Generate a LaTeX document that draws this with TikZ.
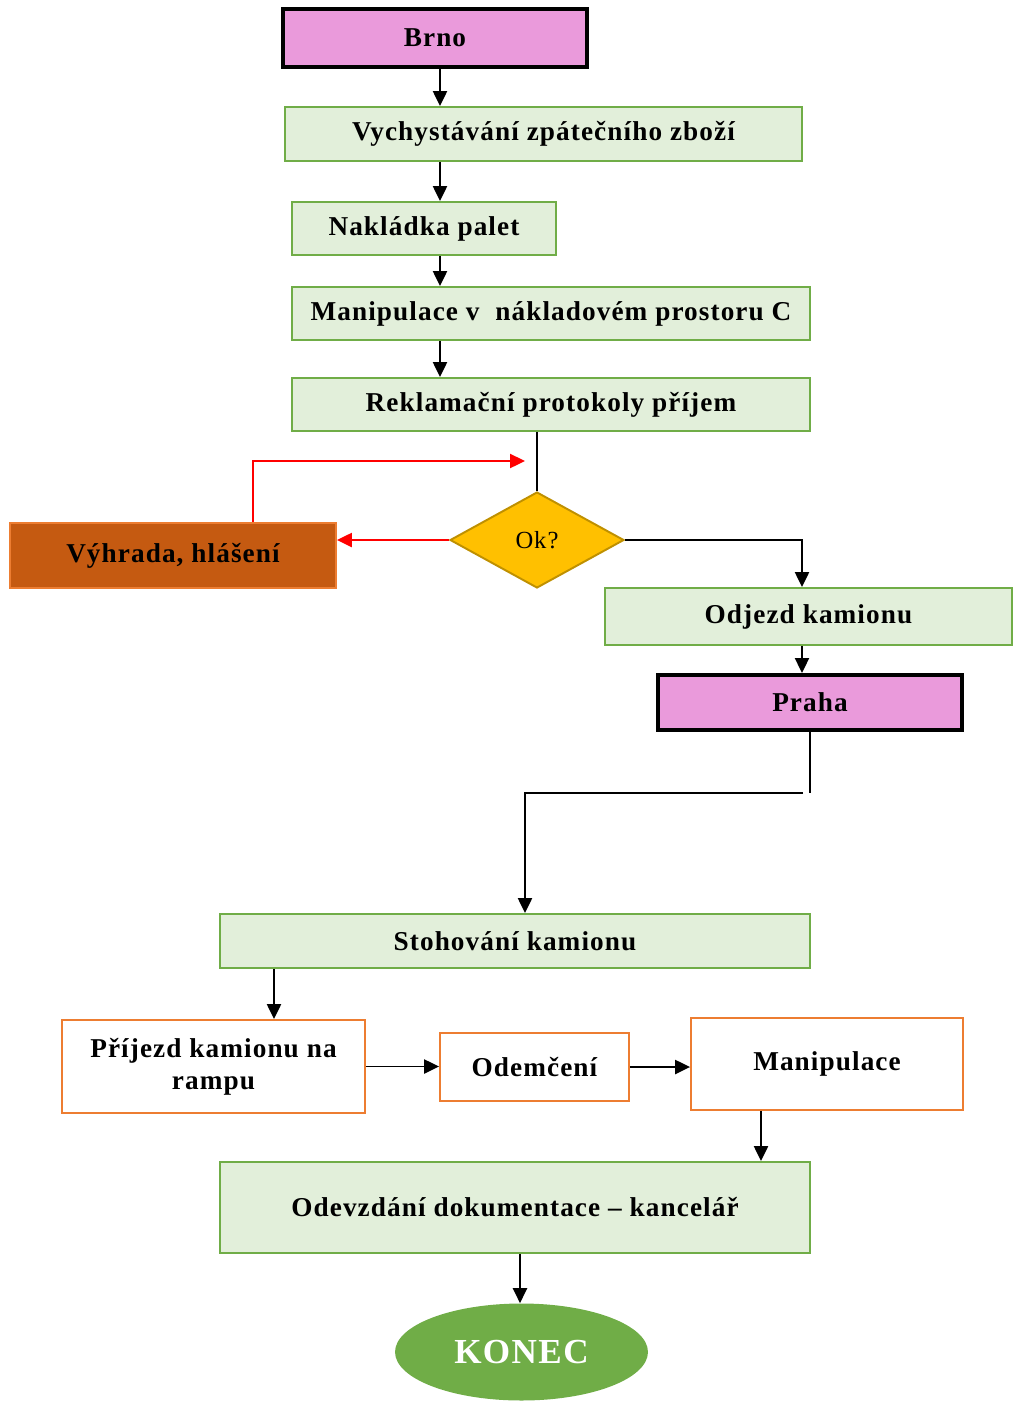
\documentclass[tikz,border=0pt]{standalone}
\usepackage{fontspec}
\setmainfont{Liberation Serif}[LetterSpace=4]
\usetikzlibrary{shapes.geometric,arrows.meta}
\definecolor{cityfill}{HTML}{EA9ADB}
\definecolor{stepfill}{HTML}{E2EFDA}
\definecolor{stepline}{HTML}{70AD47}
\definecolor{askfill}{HTML}{FFC000}
\definecolor{askline}{HTML}{BF9000}
\definecolor{warnfill}{HTML}{C55A11}
\definecolor{orangeline}{HTML}{ED7D31}
\tikzset{
  base/.style={font=\fontsize{15.5}{18}\selectfont\bfseries, inner sep=2pt, align=center},
  city/.style={base, rectangle, fill=cityfill, draw=black, line width=2.3pt},
  stepbox/.style={base, rectangle, fill=stepfill, draw=stepline, line width=1.1pt},
  whitebox/.style={base, rectangle, fill=white, draw=orangeline, line width=1.1pt},
  warnbox/.style={base, rectangle, fill=warnfill, draw=orangeline, line width=1.1pt},
  askbox/.style={diamond, fill=askfill, draw=askline, line width=1.1pt, inner sep=0pt,
    font=\fontsize{14}{16}\selectfont},
  endbox/.style={ellipse, fill=stepline, draw=none, text=white, inner sep=0pt,
    font=\fontsize{20}{24}\selectfont\bfseries},
  conn/.style={line width=1.1pt, black},
  arr/.style={conn, -{Triangle[length=8.5pt,width=8pt]}},
  redarr/.style={line width=1.1pt, red, -{Triangle[length=8.5pt,width=8pt]}},
}
\begin{document}
\begin{tikzpicture}[x=0.02cm, y=-0.02cm]
\useasboundingbox (0,0) rectangle (1014,1401);

% process steps
\node[city, minimum width=6.08cm, minimum height=1.16cm] (brno) at (435,38) {Brno};
\node[stepbox, minimum width=10.34cm, minimum height=1.08cm] (vych) at (543.5,134) {Vychystávání zpátečního zboží};
\node[stepbox, minimum width=5.28cm, minimum height=1.06cm] (nakl) at (424,228.5) {Nakládka palet};
\node[stepbox, minimum width=10.36cm, minimum height=1.06cm] (manc) at (551,313.5) {Manipulace v~ nákladovém prostoru C};
\node[stepbox, minimum width=10.36cm, minimum height=1.06cm] (rekl) at (551,404.5) {Reklamační protokoly příjem};
\node[askbox, minimum width=3.48cm, minimum height=1.92cm] (ok) at (537,540) {Ok?};
\node[warnbox, minimum width=6.52cm, minimum height=1.3cm] (vyh) at (173,555.5) {Výhrada, hlášení};
\node[stepbox, minimum width=8.14cm, minimum height=1.14cm] (odj) at (808.5,616.5) {Odjezd kamionu};
\node[city, minimum width=6.08cm, minimum height=1.1cm] (praha) at (810,702.5) {Praha};
\node[stepbox, minimum width=11.8cm, minimum height=1.08cm] (stoh) at (515,941) {Stohování kamionu};
\node[whitebox, minimum width=6.06cm, minimum height=1.86cm] (prij) at (213.5,1066.5) {Příjezd kamionu na\\rampu};
\node[whitebox, minimum width=3.78cm, minimum height=1.36cm] (odem) at (534.5,1067) {Odemčení};
\node[whitebox, minimum width=5.44cm, minimum height=1.84cm] (mani) at (827,1064) {Manipulace};
\node[stepbox, minimum width=11.8cm, minimum height=1.82cm] (odev) at (515,1207.5) {Odevzdání dokumentace – kancelář};
\node[endbox, minimum width=5.06cm, minimum height=1.94cm] (konec) at (521.5,1352) {KONEC};

% free ends of open connectors
\coordinate (redend) at (525,461);
\coordinate (prahaend) at (810,793);
\coordinate (turn) at (803,793);

% connectors
\draw[arr] (brno.south -| 440,0) -- (vych.north -| 440,0);
\draw[arr] (vych.south -| 440,0) -- (nakl.north -| 440,0);
\draw[arr] (nakl.south -| 440,0) -- (manc.north -| 440,0);
\draw[arr] (manc.south -| 440,0) -- (rekl.north -| 440,0);
\draw[conn] (ok.north |- rekl.south) -- (ok.north);
\draw[redarr] (ok.west) -- (ok.west -| vyh.east);
\draw[redarr] (vyh.north -| 253,0) |- (redend);
\draw[arr] (ok.east) -| (odj.north -| 802,0);
\draw[arr] (odj.south -| 802,0) -- (praha.north -| 802,0);
\draw[conn] (praha.south) -- (prahaend);
\draw[arr] (turn) -| (stoh.north -| 525,0);
\draw[arr] (stoh.south -| 274,0) -- (prij.north -| 274,0);
\draw[arr] (prij.east) -- (prij.east -| odem.west);
\draw[arr] (odem.east) -- (mani.west |- odem.east);
\draw[arr] (mani.south -| 761,0) -- (odev.north -| 761,0);
\draw[arr] (odev.south -| 520,0) -- (konec.north -| 520,0);
\end{tikzpicture}
\end{document}
